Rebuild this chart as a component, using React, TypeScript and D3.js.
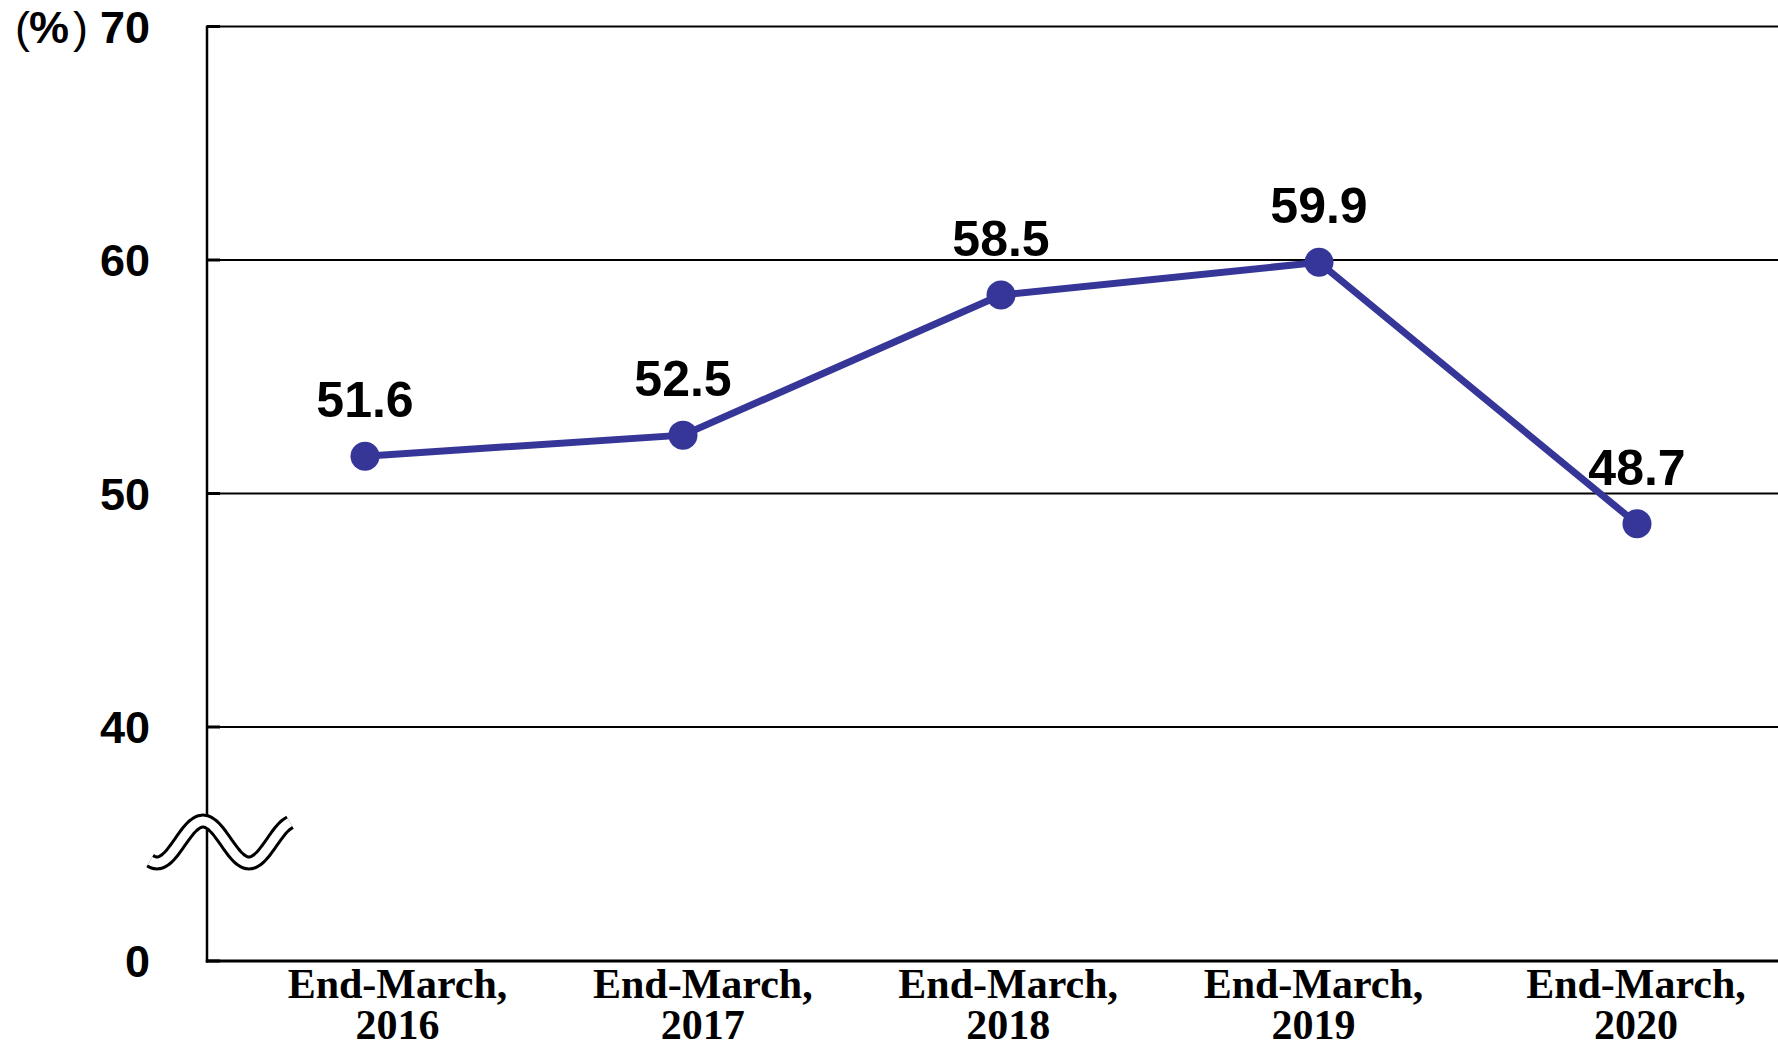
import React from "react";
import * as d3 from "d3";

const categories = ["2016", "2017", "2018", "2019", "2020"];
const values = [51.6, 52.5, 58.5, 59.9, 48.7];
const tickValues = [0, 40, 50, 60, 70];
const tickLabels = ["0", "40", "50", "60", "70"];
const unitLabel = "%";
const categoryPrefix = "End-March,";

const W = 1778;
const H = 1046;
const LEFT = 207;
const BOTTOM = 961;
const TOP = 26.5;
const LINE_COLOR = "#363699";

export default function App() {
  // broken axis: 0 sits one gridline step below 40
  const y = d3.scaleLinear().domain([0, 40, 70]).range([BOTTOM, 727, TOP]);
  const x = d3.scalePoint<string>().domain(categories).range([365, 1637]);
  const xlIdx = d3.scaleLinear().domain([0, 3, 4]).range([397.5, 1313.5, 1636]);
  const xl = (c: string) => xlIdx(categories.indexOf(c));

  const pts = categories.map((c, i) => ({ c, v: values[i] }));
  const line = d3
    .line<{ c: string; v: number }>()
    .x((d) => x(d.c) as number)
    .y((d) => y(d.v));

  // axis-break decoration (sine wave) between 0 and 40
  const yc = (y(0) + y(40)) / 2 - 2;
  const wave = d3.range(150, 291, 2).map((px) => [
    px,
    yc - 21 * Math.cos((2 * Math.PI * (px - 203)) / 92),
  ]) as [number, number][];
  const wavePath = d3.line().curve(d3.curveBasis)(wave) as string;

  return (
    <svg
      width={W}
      height={H}
      style={{ position: "absolute", left: 0, top: 0, background: "#fff" }}
    >
      <rect width={W} height={H} fill="#fff" />
      {/* gridlines */}
      {tickValues
        .filter((t) => t >= 40)
        .map((t) => (
          <line
            key={t}
            x1={LEFT}
            x2={W}
            y1={y(t)}
            y2={y(t)}
            stroke="#000"
            strokeWidth={2}
          />
        ))}
      {/* axes */}
      <line x1={LEFT} x2={LEFT} y1={TOP - 1} y2={BOTTOM + 1.5} stroke="#000" strokeWidth={2.5} />
      <line x1={LEFT - 1.25} x2={W} y1={BOTTOM} y2={BOTTOM} stroke="#000" strokeWidth={3} />
      {tickValues.map((t) => (
        <line key={"tk" + t} x1={LEFT} x2={LEFT + 13} y1={y(t)} y2={y(t)} stroke="#000" strokeWidth={3} />
      ))}
      {/* tick labels */}
      {tickValues.map((t, i) => (
        <text
          key={"tl" + t}
          x={150}
          y={y(t)}
          dy="0.36em"
          textAnchor="end"
          fontFamily="'Liberation Sans', Arial, sans-serif"
          fontWeight="bold"
          fontSize={45}
          fill="#000"
        >
          {tickLabels[i]}
        </text>
      ))}
      <text
        x={15}
        y={y(70)}
        dy="0.36em"
        textAnchor="start"
        fontFamily="'Liberation Sans', Arial, sans-serif"
        fontSize={45}
        fill="#000"
      >
        <tspan>(</tspan>
        <tspan fontWeight="bold" dx={-1}>{unitLabel}</tspan>
        <tspan dx={4}>)</tspan>
      </text>
      {/* axis break */}
      <path d={wavePath} fill="none" stroke="#000" strokeWidth={15} />
      <path d={wavePath} fill="none" stroke="#fff" strokeWidth={9} />
      {/* x labels */}
      {categories.map((c) => (
        <text
          key={"xl" + c}
          x={xl(c)}
          textAnchor="middle"
          fontFamily="'Liberation Serif', 'Times New Roman', serif"
          fontWeight="bold"
          fontSize={42}
          fill="#000"
        >
          <tspan x={xl(c)} y={998}>
            {categoryPrefix}
          </tspan>
          <tspan x={xl(c)} y={1039}>
            {c}
          </tspan>
        </text>
      ))}
      {/* line */}
      <path d={line(pts) as string} fill="none" stroke={LINE_COLOR} strokeWidth={7} />
      {pts.map((d) => (
        <circle key={"p" + d.c} cx={x(d.c)} cy={y(d.v)} r={14.5} fill={LINE_COLOR} />
      ))}
      {pts.map((d) => (
        <text
          key={"v" + d.c}
          x={x(d.c)}
          y={y(d.v) - 39}
          textAnchor="middle"
          fontFamily="'Liberation Sans', Arial, sans-serif"
          fontWeight="bold"
          fontSize={50}
          fill="#000"
        >
          {d.v.toFixed(1)}
        </text>
      ))}
    </svg>
  );
}
